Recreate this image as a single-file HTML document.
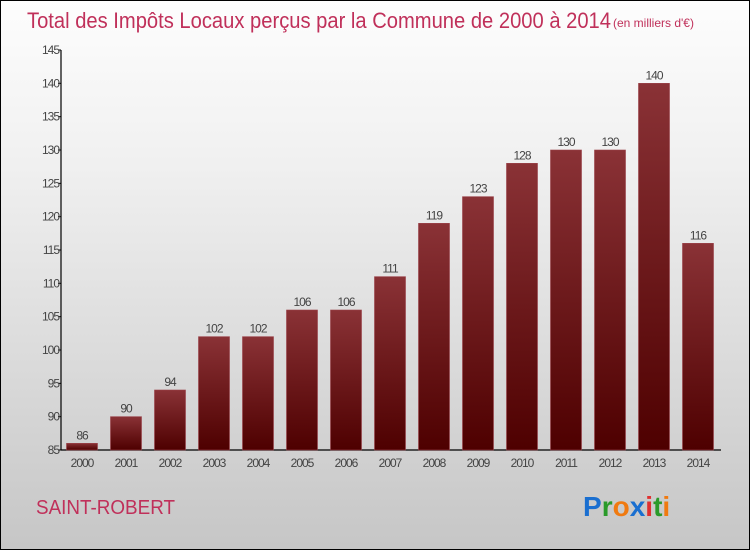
<!DOCTYPE html>
<html><head><meta charset="utf-8"><style>
html,body{margin:0;padding:0}
body{width:750px;height:550px;overflow:hidden;font-family:"Liberation Sans",sans-serif}
#wrap{position:relative;width:748px;height:548px;border:1px solid #000;background:linear-gradient(#fdfdfd,#f0f0f0 30%,#c6c6c6)}
</style></head><body>
<div id="wrap">
<svg id="chart" width="748" height="548" style="position:absolute;left:0;top:0">
<defs><linearGradient id="bg" x1="0" y1="0" x2="0" y2="1"><stop offset="0" stop-color="#8a3236"/><stop offset="1" stop-color="#4e0000"/></linearGradient></defs>
<text x="26" y="27" font-size="22" fill="#c0305a" textLength="584" lengthAdjust="spacingAndGlyphs">Total des Impôts Locaux perçus par la Commune de 2000 à 2014</text>
<text x="612" y="26" font-size="12" fill="#c0305a">(en milliers d'€)</text>
<text x="35" y="513" font-size="20" fill="#c0305a" textLength="139" lengthAdjust="spacingAndGlyphs">SAINT-ROBERT</text>
<g font-size="28" font-weight="bold" font-family="'Liberation Sans',sans-serif">
<text x="582" y="515"><tspan fill="#1a6fd0">P</tspan><tspan fill="#2a9a2a">r</tspan><tspan fill="#f07a10">o</tspan><tspan fill="#1a6fd0">x</tspan><tspan fill="#e03030">i</tspan><tspan fill="#2a9a2a">t</tspan><tspan fill="#f07a10">i</tspan></text>
</g>
<g id="axes"></g><g id="bars"></g>
</svg>
</div>
<script>
const categories=["2000","2001","2002","2003","2004","2005","2006","2007","2008","2009","2010","2011","2012","2013","2014"];
const values=[86,90,94,102,102,106,106,111,119,123,128,130,130,140,116];
const yTicks=[85,90,95,100,105,110,115,120,125,130,135,140,145];
const NS="http://www.w3.org/2000/svg";
const yMin=85,yMax=145,yTop=49,yBot=449,x0=60,x1=720;
function y(v){return yBot-(v-yMin)/(yMax-yMin)*(yBot-yTop);}
function xc(i){return 81+i*44;}
function mk(t,a,p){const e=document.createElementNS(NS,t);for(const k in a)e.setAttribute(k,a[k]);p.appendChild(e);return e;}
const ax=document.getElementById('axes'),bs=document.getElementById('bars');
const yl=mk('line',{x1:x0,y1:yTop,x2:x0,y2:yBot,stroke:'#000','stroke-width':1.2},ax);


const xl=mk('line',{x1:x0,y1:yBot,x2:x1,y2:yBot,stroke:'#000','stroke-width':1.2},ax);


yTicks.forEach(t=>{
 mk('line',{x1:x0-3,y1:y(t),x2:x0,y2:y(t),stroke:'#000'},ax);
 const tx=mk('text',{x:x0-2,y:y(t)+4,'font-size':12,fill:'#444','text-anchor':'end','letter-spacing':'-1'},ax);
 tx.textContent=t;
 
 
});
categories.forEach((c,i)=>{
 const v=values[i];
 const r=mk('rect',{x:xc(i)-15.5,y:y(v),width:31,height:yBot-y(v),fill:'url(#bg)',stroke:'#9a4048','stroke-width':0.6},bs);
 
 
 const lb=mk('text',{x:xc(i),y:y(v)-4,'font-size':12,fill:'#444','text-anchor':'middle','letter-spacing':'-1'},bs);
 lb.textContent=v;
 
 
 const xt=mk('text',{x:xc(i),y:466,'font-size':12,fill:'#444','text-anchor':'middle','letter-spacing':'-1'},ax);
 xt.textContent=c;
 
 
});
</script>
</body></html>
